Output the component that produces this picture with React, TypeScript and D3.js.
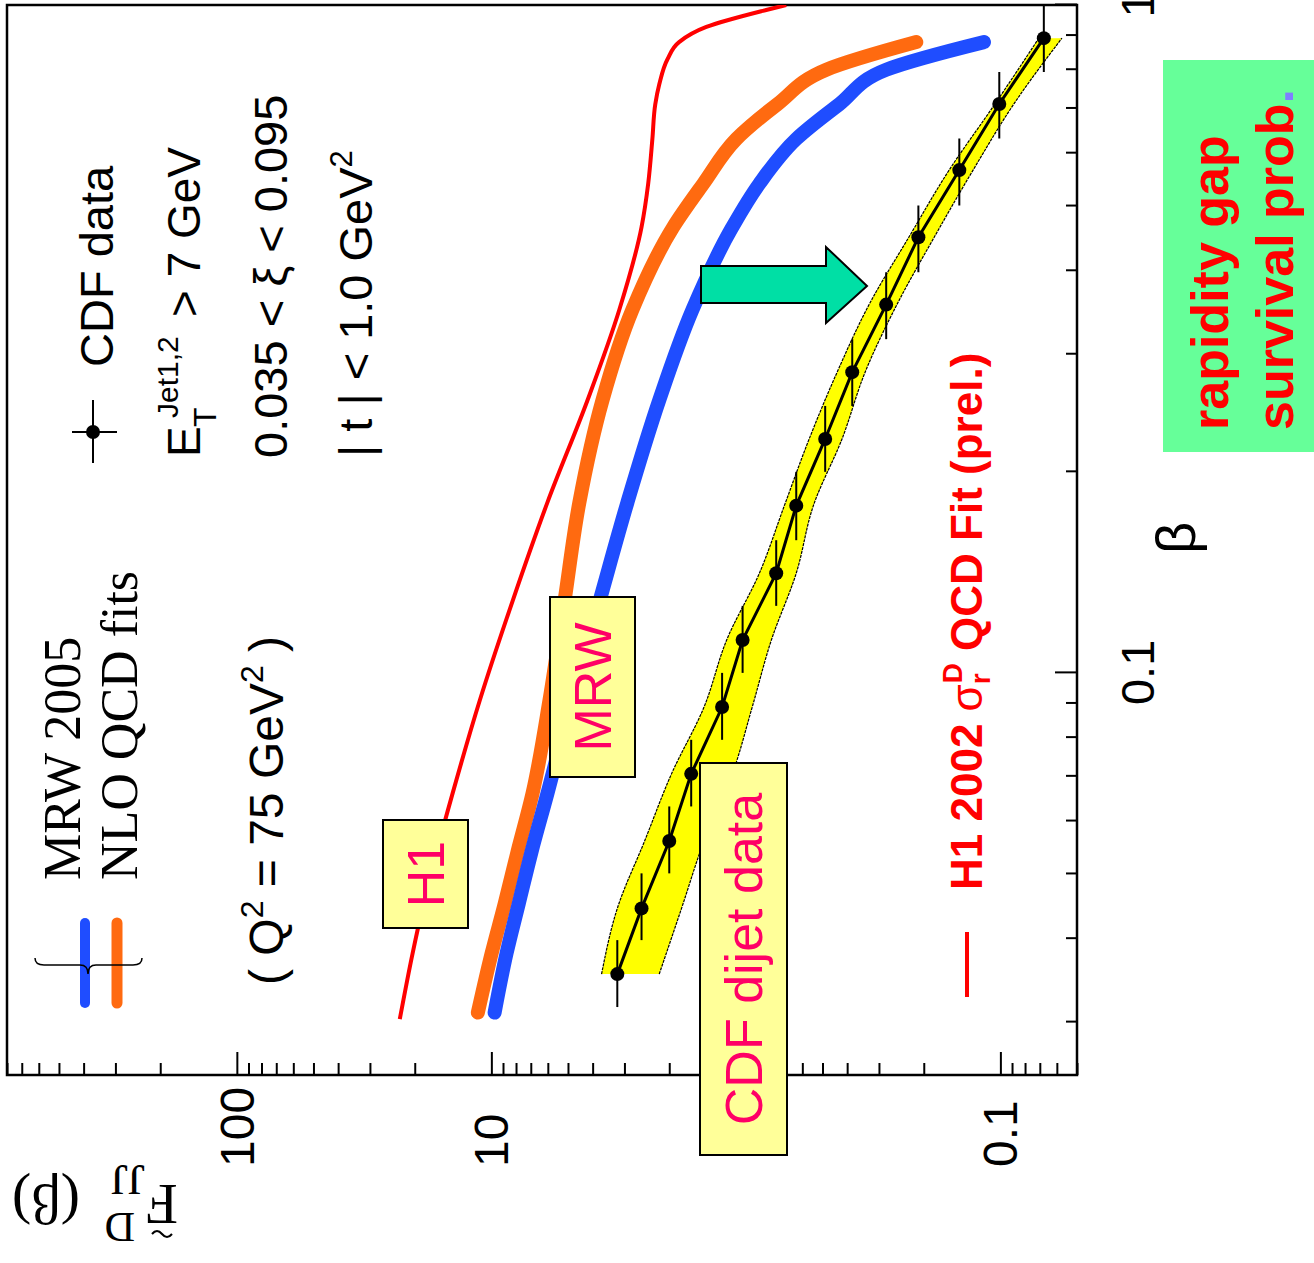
import React, { useRef, useEffect } from 'react';
import * as d3 from 'd3';

const W = 1314;
const H = 1263;

// beta grid for the two MRW 2005 fits
const betaFit = [0.031, 0.038, 0.045, 0.054, 0.066, 0.091, 0.128, 0.18, 0.256, 0.35, 0.465, 0.54, 0.63, 0.71, 0.8, 0.88];
const mrwBlue = [9.71, 8.72, 7.82, 6.95, 6.02, 4.84, 3.76, 2.92, 2.19, 1.62, 1.13, 0.885, 0.634, 0.43, 0.281, 0.116];
const mrwOrange = [11.3, 9.98, 8.88, 7.89, 6.89, 5.91, 5.16, 4.51, 3.66, 2.79, 1.93, 1.47, 1.09, 0.753, 0.483, 0.214];

// H1 2002 QCD fit
const betaH1 = [0.0303, 0.038, 0.045, 0.054, 0.066, 0.091, 0.128, 0.18, 0.256, 0.35, 0.465, 0.54, 0.63, 0.71, 0.76, 0.83, 0.88, 0.927, 0.983, 1.0];
const h1Fit = [22.9, 20.4, 18.5, 16.4, 14.2, 11.1, 8.26, 6.02, 4.19, 3.14, 2.57, 2.42, 2.33, 2.27, 2.19, 2.03, 1.83, 1.43, 0.832, 0.694];

// CDF dijet data
const cdfBeta = [0.0354, 0.0444, 0.056, 0.0706, 0.0889, 0.112, 0.141, 0.178, 0.224, 0.282, 0.356, 0.449, 0.566, 0.711, 0.892];
const cdfF = [3.2, 2.57, 2.0, 1.64, 1.24, 1.03, 0.76, 0.634, 0.488, 0.382, 0.281, 0.21, 0.145, 0.101, 0.0675];
const cdfBinEdges = [0.0316, 0.0398, 0.0501, 0.0631, 0.0794, 0.1, 0.126, 0.158, 0.2, 0.251, 0.316, 0.398, 0.501, 0.631, 0.794, 1.0];
const bandHi = [3.69, 3.2, 2.5, 1.96, 1.46, 1.19, 0.885, 0.706, 0.564, 0.438, 0.328, 0.229, 0.159, 0.105, 0.0706];
const bandLo = [2.19, 1.79, 1.46, 1.13, 0.944, 0.794, 0.634, 0.543, 0.419, 0.34, 0.255, 0.182, 0.128, 0.0885, 0.0573];

const betaTicks = [0.1, 1];
const betaTickLabels = ['0.1', '1'];
const fTicks = [100, 10, 0.1];
const fTickLabels = ['100', '10', '0.1'];

const SANS = '"Liberation Sans", Arial, Helvetica, sans-serif';
const SERIF = '"Liberation Serif", "Times New Roman", serif';
const PINK = '#ff0066';

const App: React.FC = () => {
  const ref = useRef<SVGSVGElement | null>(null);

  useEffect(() => {
    if (!ref.current) return;
    const svg = d3.select(ref.current);
    svg.selectAll('*').remove();

    // whole figure is a normal plot turned 90 degrees counter-clockwise
    const g = svg.append('g').attr('transform', `translate(0,${H}) rotate(-90)`);

    const plot = { left: 188, right: 1258, top: 7, bottom: 1077 };
    const x = d3.scaleLog().domain([0.025, 1]).range([plot.left, plot.right]);
    const y = d3.scaleLog().domain([0.05, 800]).range([plot.bottom, plot.top]);
    const isMajor = (v: number) => Math.abs(Math.log10(v) - Math.round(Math.log10(v))) < 1e-6;

    g.append('defs').append('clipPath').attr('id', 'plotclip')
      .append('rect').attr('x', plot.left).attr('y', plot.top)
      .attr('width', plot.right - plot.left).attr('height', plot.bottom - plot.top);

    // axes ticks (inward)
    const xMinor = x.ticks().filter(v => !isMajor(v));
    const yMinor = y.ticks().filter(v => !isMajor(v));

    const style = (sel: d3.Selection<SVGGElement, unknown, null, undefined>) => {
      sel.select('.domain').remove();
      sel.selectAll('line').attr('stroke', '#000').attr('stroke-width', 2);
    };

    g.append('g').attr('transform', `translate(0,${plot.bottom})`)
      .call(d3.axisBottom(x).tickValues(xMinor).tickSize(-11).tickFormat(() => ''))
      .call(style);
    const xMaj = g.append('g').attr('transform', `translate(0,${plot.bottom})`)
      .call(d3.axisBottom(x).tickValues(betaTicks).tickSize(-22).tickPadding(44)
        .tickFormat((d, i) => betaTickLabels[i]))
      .call(style);
    xMaj.attr('font-size', 47).attr('font-family', SANS);

    g.append('g').attr('transform', `translate(${plot.left},0)`)
      .call(d3.axisLeft(y).tickValues(yMinor).tickSize(-12).tickFormat(() => ''))
      .call(style);
    g.append('g').attr('transform', `translate(${plot.left},0)`)
      .call(d3.axisLeft(y).tickValues([0.1, 1, 10, 100]).tickSize(-23).tickFormat(() => ''))
      .call(style);
    g.append('g').selectAll('text').data(fTicks).join('text')
      .attr('x', 96).attr('y', d => y(d)).attr('dy', '0.35em')
      .attr('font-family', SANS).attr('font-size', 48)
      .text((d, i) => fTickLabels[i]);

    // frame
    g.append('rect').attr('x', plot.left).attr('y', plot.top)
      .attr('width', plot.right - plot.left).attr('height', plot.bottom - plot.top)
      .attr('fill', 'none').attr('stroke', '#000').attr('stroke-width', 2.5);

    const layer = g.append('g').attr('clip-path', 'url(#plotclip)');

    // curves
    const curve = (bs: number[], fs: number[]) =>
      d3.line<number>().x((_, i) => x(bs[i])).y(d => y(d)).curve(d3.curveMonotoneX)(fs);

    layer.append('path').attr('d', curve(betaH1, h1Fit))
      .attr('fill', 'none').attr('stroke', '#ff0000').attr('stroke-width', 4);
    layer.append('path').attr('d', curve(betaFit, mrwOrange))
      .attr('fill', 'none').attr('stroke', '#ff6a10').attr('stroke-width', 14).attr('stroke-linecap', 'round');
    layer.append('path').attr('d', curve(betaFit, mrwBlue))
      .attr('fill', 'none').attr('stroke', '#1f4dff').attr('stroke-width', 14).attr('stroke-linecap', 'round');

    // CDF error band
    const band = d3.area<number>().x((_, i) => x(cdfBeta[i]))
      .y0((_, i) => y(bandLo[i])).y1((_, i) => y(bandHi[i])).curve(d3.curveMonotoneX);
    layer.append('path').attr('d', band(cdfBeta)).attr('fill', '#ffff00');
    layer.append('path').attr('d', curve(cdfBeta, bandHi))
      .attr('fill', 'none').attr('stroke', '#000').attr('stroke-width', 1.2).attr('stroke-dasharray', '3 1');
    layer.append('path').attr('d', curve(cdfBeta, bandLo))
      .attr('fill', 'none').attr('stroke', '#000').attr('stroke-width', 1.2).attr('stroke-dasharray', '3 1');

    // data line, bin widths and markers
    layer.append('path')
      .attr('d', d3.line<number>().x((_, i) => x(cdfBeta[i])).y(d => y(d))(cdfF))
      .attr('fill', 'none').attr('stroke', '#000').attr('stroke-width', 3);
    layer.append('g').selectAll('line').data(cdfF).join('line')
      .attr('x1', (_, i) => x(cdfBinEdges[i])).attr('x2', (_, i) => x(cdfBinEdges[i + 1]))
      .attr('y1', d => y(d)).attr('y2', d => y(d))
      .attr('stroke', '#000').attr('stroke-width', 2);
    layer.append('g').selectAll('circle').data(cdfF).join('circle')
      .attr('cx', (_, i) => x(cdfBeta[i])).attr('cy', d => y(d)).attr('r', 7).attr('fill', '#000');

    // legend: MRW fits
    g.append('line').attr('x1', 260).attr('x2', 340).attr('y1', 85).attr('y2', 85)
      .attr('stroke', '#1f4dff').attr('stroke-width', 10).attr('stroke-linecap', 'round');
    g.append('line').attr('x1', 260).attr('x2', 340).attr('y1', 117).attr('y2', 117)
      .attr('stroke', '#ff6a10').attr('stroke-width', 11).attr('stroke-linecap', 'round');
    g.append('path')
      .attr('d', 'M305,35 Q298,35 298,44 L298,80 Q298,88 289,88 Q298,88 298,96 L298,133 Q298,142 305,142')
      .attr('fill', 'none').attr('stroke', '#000').attr('stroke-width', 1.5);
    g.append('text').attr('x', 383).attr('y', 80).attr('font-family', SERIF).attr('font-size', 52).text('MRW 2005');
    g.append('text').attr('x', 383).attr('y', 137).attr('font-family', SERIF).attr('font-size', 52).text('NLO QCD fits');

    const q = g.append('text').attr('x', 278).attr('y', 283).attr('font-family', SANS).attr('font-size', 48);
    q.append('tspan').text('( Q');
    q.append('tspan').attr('dy', -20).attr('font-size', 32).text('2');
    q.append('tspan').attr('dy', 20).text(' = 75 GeV');
    q.append('tspan').attr('dy', -20).attr('font-size', 32).text('2');
    q.append('tspan').attr('dy', 20).text(' )');

    // legend: CDF data
    g.append('line').attr('x1', 800).attr('x2', 863).attr('y1', 93).attr('y2', 93).attr('stroke', '#000').attr('stroke-width', 2);
    g.append('line').attr('x1', 831).attr('x2', 831).attr('y1', 72).attr('y2', 117).attr('stroke', '#000').attr('stroke-width', 2);
    g.append('circle').attr('cx', 831).attr('cy', 93).attr('r', 7).attr('fill', '#000');
    g.append('text').attr('x', 896).attr('y', 113).attr('font-family', SANS).attr('font-size', 47).text('CDF data');

    g.append('text').attr('x', 806).attr('y', 200).attr('font-family', SANS).attr('font-size', 46).text('E');
    g.append('text').attr('x', 836).attr('y', 216).attr('font-family', SANS).attr('font-size', 32).text('T');
    g.append('text').attr('x', 845).attr('y', 178).attr('font-family', SANS).attr('font-size', 30).text('Jet1,2');
    g.append('text').attr('x', 946).attr('y', 200).attr('font-family', SANS).attr('font-size', 46).text('> 7 GeV');
    g.append('text').attr('x', 805).attr('y', 287).attr('font-family', SANS).attr('font-size', 47).text('0.035 < ξ < 0.095');
    const tt = g.append('text').attr('x', 806).attr('y', 372).attr('font-family', SANS).attr('font-size', 47);
    tt.append('tspan').text('| t |  < 1.0 GeV');
    tt.append('tspan').attr('dy', -20).attr('font-size', 31).text('2');

    // legend: H1 fit
    g.append('line').attr('x1', 266).attr('x2', 331).attr('y1', 967).attr('y2', 967).attr('stroke', '#ff0000').attr('stroke-width', 4);
    const h1 = g.append('text').attr('x', 373).attr('y', 982).attr('font-family', SANS)
      .attr('font-size', 44).attr('font-weight', 'bold').attr('fill', '#ff0000');
    h1.append('tspan').text('H1 2002 ');
    h1.append('tspan').attr('font-weight', 'normal').text('σ');
    h1.append('tspan').attr('font-size', 28).attr('dy', 8).text('r');
    h1.append('tspan').attr('font-size', 28).attr('dx', -10).attr('dy', -28).text('D');
    h1.append('tspan').attr('dy', 20).text(' QCD Fit (prel.)');

    // axis titles
    g.append('text').attr('x', 725).attr('y', 1195).attr('text-anchor', 'middle')
      .attr('font-family', SANS).attr('font-size', 56).text('β');
    const yt = g.append('g').attr('transform', 'translate(78,178) rotate(-90)').attr('font-family', SERIF);
    yt.append('text').attr('x', 0).attr('y', 0).attr('font-size', 58).text('F');
    yt.append('path').attr('d', 'M6,-49 q5,-6 10,0 t10,0').attr('fill', 'none').attr('stroke', '#000').attr('stroke-width', 2);
    yt.append('text').attr('x', 43).attr('y', -28).attr('font-size', 42).text('D');
    yt.append('text').attr('x', 33).attr('y', 20).attr('font-size', 44).text('JJ');
    yt.append('text').attr('x', 98).attr('y', 0).attr('font-size', 58).text('(β)');

    // annotation boxes
    const box = (x0: number, y0: number, w: number, h: number, label: string) => {
      g.append('rect').attr('x', x0).attr('y', y0).attr('width', w).attr('height', h)
        .attr('fill', '#ffff99').attr('stroke', '#000').attr('stroke-width', 2);
      g.append('text').attr('x', x0 + w / 2).attr('y', y0 + h / 2).attr('dy', '0.36em')
        .attr('text-anchor', 'middle').attr('font-family', SANS).attr('font-size', 52)
        .attr('fill', PINK).text(label);
    };
    box(335, 383, 108, 85, 'H1');
    box(486, 550, 180, 85, 'MRW');
    box(108, 700, 392, 87, 'CDF dijet data');

    // arrow
    g.append('path')
      .attr('d', 'M997,701 L997,826 L1016,826 L977,867 L940,826 L960,826 L960,701 Z')
      .attr('fill', '#00dfa5').attr('stroke', '#000').attr('stroke-width', 2);

    // green note
    g.append('rect').attr('x', 811).attr('y', 1163).attr('width', 392).attr('height', 160).attr('fill', '#66ff99');
    const note = g.append('g').attr('font-family', SANS).attr('font-size', 52).attr('font-weight', 'bold').attr('fill', '#ff0000');
    note.append('text').attr('x', 833).attr('y', 1228).text('rapidity gap');
    const n2 = note.append('text').attr('x', 833).attr('y', 1293);
    n2.append('tspan').text('survival prob');
    n2.append('tspan').attr('fill', '#7f7fff').text('.');
  }, []);

  return (
    <svg ref={ref} width={W} height={H}
      style={{ position: 'absolute', left: 0, top: 0, background: '#fff' }} />
  );
};

export default App;
